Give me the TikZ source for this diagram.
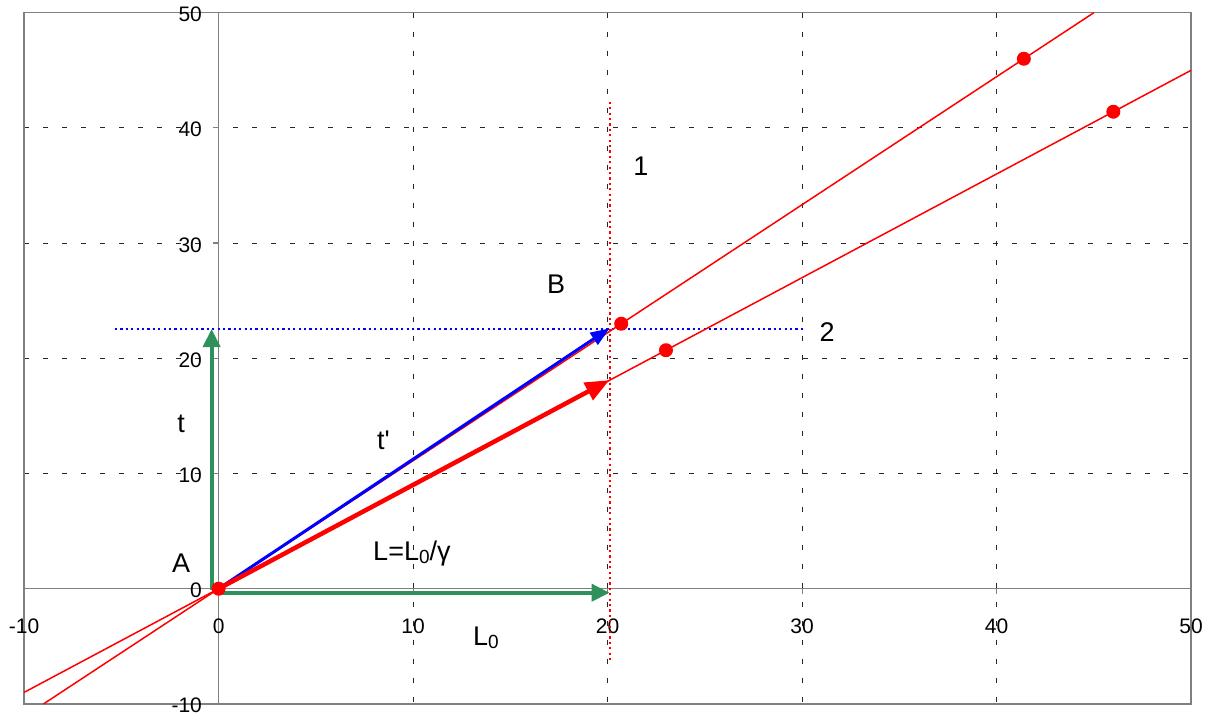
\documentclass[tikz,border=0pt]{standalone}
\usepackage{fontspec}
\setmainfont{Liberation Sans}
\usetikzlibrary{arrows.meta}
\definecolor{grn}{RGB}{46,145,90}
\definecolor{axgray}{RGB}{128,128,128}
\begin{document}
\begin{tikzpicture}[x=19.45pt,y=11.52pt,
  gridline/.style={black!85, line width=0.9pt, dash pattern=on 5pt off 14pt},
  axisline/.style={axgray, line width=1.6pt},
  tickmark/.style={axgray, line width=1.2pt},
  worldline/.style={red, line width=1.5pt},
  dotline/.style={line width=2.3pt, dash pattern=on 2.2pt off 3.2pt},
  ticklab/.style={font=\fontsize{21}{21}\selectfont, inner sep=0pt, anchor=base},
  ylab/.style={font=\fontsize{21}{21}\selectfont, inner sep=0pt, anchor=base east},
  lab/.style={font=\fontsize{27}{27}\selectfont, inner sep=0pt, anchor=base},
  labw/.style={font=\fontsize{27}{27}\selectfont, inner sep=0pt, anchor=base west},
  evt/.style={circle, fill=red, inner sep=0pt, minimum size=14pt},
  greenarrow/.style={grn, line width=4pt, -{Triangle[length=18pt,width=17pt]}},
  bluearrow/.style={blue, line width=3pt, -{Triangle[length=19pt,width=14pt]}},
  redarrow/.style={red, line width=4.5pt, -{Triangle[length=24pt,width=19pt]}}
]
\useasboundingbox (-11.239,-11.137) rectangle (50.868,51.102);
% grid
\foreach \v in {10,20,30,40}{
  \draw[gridline] (\v,50) -- (\v,-10);
  \draw[gridline] (-10,\v) -- (50,\v);
}
% axes and frame
\draw[axisline] (-10,0) -- (50,0);
\draw[axisline] (0,-10) -- (0,50);
\draw[axisline] (-10,-10) rectangle (50,50);
\foreach \v in {-10,0,10,20,30,40,50}{
  \draw[tickmark] (0,\v) -- ++(-6pt,0);
  \draw[tickmark] (\v,0) -- ++(0,-5pt);
  \node[ticklab] (xl\v) at (\v,-3.86) {\v};
  \node[ylab] (yl\v) at (-0.85,\v-0.78) {\v};
}
% named points
\coordinate (O) at (0,0);
\coordinate (w1s) at (-9,-10);
\coordinate (w1e) at (45,50);
\coordinate (w2s) at (-10,-9);
\coordinate (w2e) at (50,45);
\coordinate (hs) at (-5.33,22.54);
\coordinate (he) at (30.2,22.54);
\coordinate (vs) at (20.12,-6.2);
\coordinate (ve) at (20.12,42.4);
\coordinate (gvs) at (-0.36,-0.1);
\coordinate (gve) at (-0.36,22.54);
\coordinate (ghs) at (0,-0.35);
\coordinate (ghe) at (20.1,-0.35);
\coordinate (Btip) at (20.1,22.6);
\coordinate (Rtip) at (20.09,18.1);
% dotted lines
\draw[dotline, blue] (hs) -- (he);
\draw[dotline, red] (vs) -- (ve);
% world lines
\draw[worldline] (w1s) -- (w1e);
\draw[worldline] (w2s) -- (w2e);
% arrows
\draw[greenarrow] (gvs) -- (gve);
\draw[greenarrow] (ghs) -- (ghe);
\draw[bluearrow] (O) -- (Btip);
\draw[redarrow] (O) -- (Rtip);
% events
\node[evt] (e0) at (O) {};
\node[evt] (e1) at (20.7,23) {};
\node[evt] (e2) at (23,20.7) {};
\node[evt] (e3) at (41.4,46) {};
\node[evt] (e4) at (46,41.4) {};
% labels
\node[lab] (lA) at (-1.93,1.44) {A};
\node[lab] (lB) at (17.35,25.59) {B};
\node[lab] (l1) at (21.71,35.9) {1};
\node[lab] (l2) at (31.28,21.42) {2};
\node[lab] (lt) at (-1.93,13.52) {t};
\node[lab] (ltp) at (8.48,12.04) {t\textquotesingle};
\node[labw] (lL) at (7.94,2.49) {L=L\raisebox{-3pt}{\fontsize{19}{19}\selectfont 0}/γ};
\node[labw] (lL0) at (13.08,-4.89) {L\raisebox{-3pt}{\fontsize{19}{19}\selectfont 0}};
\end{tikzpicture}
\end{document}
